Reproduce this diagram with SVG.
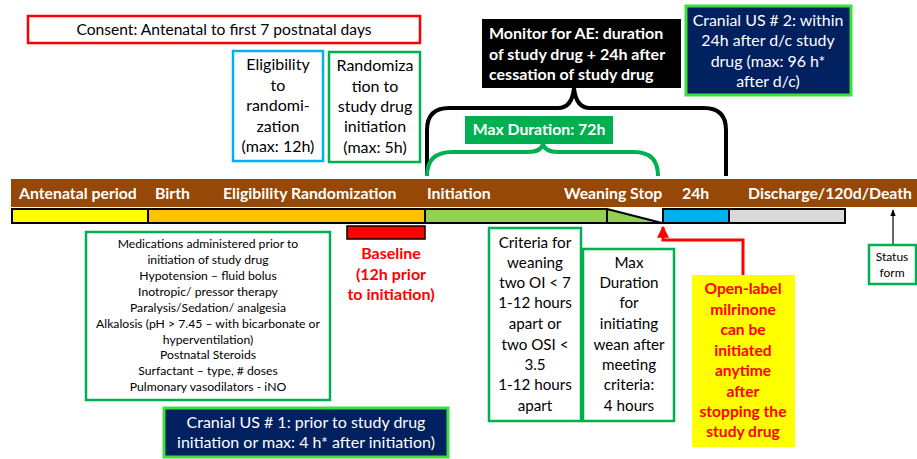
<svg xmlns="http://www.w3.org/2000/svg" width="917" height="459" viewBox="0 0 917 459">
<style>
text{font-family:Lato,"Liberation Sans",sans-serif;}
.t{font-size:15.2px;fill:#000;text-anchor:middle;}
.e{font-size:16px;fill:#000;text-anchor:middle;}
.s{font-size:12.2px;fill:#000;text-anchor:middle;}
.w{font-size:15.9px;fill:#fff;text-anchor:middle;}
.wb{font-size:15.8px;fill:#fff;font-weight:bold;}
.rb{font-size:15.6px;fill:#f00;font-weight:bold;text-anchor:middle;}
.gbox{fill:#fff;stroke:#00B050;stroke-width:2.5;}
.nbox{fill:#002060;stroke:#3CE03C;stroke-width:3;}
.bar{stroke:#000;stroke-width:2;}
</style>
<defs>
<marker id="ar" viewBox="0 0 10 10" refX="9" refY="5" markerWidth="4" markerHeight="4" orient="auto"><path d="M0,0 L10,5 L0,10 z" fill="#f00"/></marker>
<marker id="ak" viewBox="0 0 10 10" refX="9" refY="5" markerWidth="6" markerHeight="6" orient="auto"><path d="M0,1 L10,5 L0,9 z" fill="#000"/></marker>
</defs>

<g id="consent"><rect x="28" y="16" width="392" height="27" fill="#fff" stroke="#f00" stroke-width="2.5"/><text class="t" style="font-size:15.6px" x="224" y="35">Consent: Antenatal to first 7 postnatal days</text></g>

<g id="eligibility"><rect x="233" y="51" width="90" height="110" fill="#fff" stroke="#00B0F0" stroke-width="2.5"/>
<text class="e"><tspan x="278" y="70">Eligibility</tspan><tspan x="278" y="91">to</tspan><tspan x="278" y="111">randomi-</tspan><tspan x="278" y="132">zation</tspan><tspan x="278" y="152">(max: 12h)</tspan></text></g>

<g id="randomization"><rect x="329" y="52" width="91" height="110" class="gbox"/>
<text class="e"><tspan x="375" y="71">Randomiza</tspan><tspan x="375" y="92">tion to</tspan><tspan x="375" y="112">study drug</tspan><tspan x="375" y="132">initiation</tspan><tspan x="375" y="153">(max: 5h)</tspan></text></g>

<g id="monitor"><rect x="482" y="19" width="199" height="69" fill="#000"/>
<text class="wb" style="font-size:16px"><tspan x="489" y="39">Monitor for AE: duration</tspan><tspan x="489" y="60">of study drug + 24h after</tspan><tspan x="489" y="80">cessation of study drug</tspan></text></g>

<g id="cranial2"><rect x="686" y="6" width="165" height="89" class="nbox"/>
<text class="w"><tspan x="768" y="26">Cranial US # 2: within</tspan><tspan x="768" y="46">24h after d/c study</tspan><tspan x="768" y="67">drug (max: 96 h*</tspan><tspan x="768" y="87">after d/c)</tspan></text></g>

<g id="maxdur"><rect x="465" y="116" width="148" height="28" fill="#00B050"/><text class="wb" x="539" y="135" text-anchor="middle">Max Duration: 72h</text></g>

<g id="connectors" fill="none">
<path d="M427,176 L427,130 Q427,108 449,108 L558,108 Q572,108 574,88 Q576,108 590,108 L704,108 Q726,108 726,130 L726,176" stroke="#000" stroke-width="4"/>
<path d="M427,176 Q427,152 452,152 L528,152 Q541,152 543,144 Q545,152 558,152 L634,152 Q658,152 658,176" stroke="#00B050" stroke-width="4"/>
<path d="M743,275 L743,240 L663,240 L663,227" stroke="#f00" stroke-width="3" marker-end="url(#ar)"/>
<path d="M893,245 L893,210" stroke="#000" stroke-width="1.2" marker-end="url(#ak)"/>
</g>

<g id="timeline">
<rect x="11" y="179" width="906" height="28" fill="#974806"/>
<text class="wb" y="199"><tspan x="19">Antenatal period</tspan><tspan x="155">Birth</tspan><tspan x="223">Eligibility Randomization</tspan><tspan x="427">Initiation</tspan><tspan x="564">Weaning Stop</tspan><tspan x="682">24h</tspan><tspan x="748">Discharge/120d/Death</tspan></text>
<rect x="12" y="209" width="136" height="14" fill="#FFFF00" class="bar"/>
<rect x="148" y="209" width="277" height="14" fill="#FFC000" class="bar"/>
<rect x="425" y="209" width="182" height="14" fill="#92D050" class="bar"/>
<polygon points="607,209 662,223 607,223" fill="#92D050" class="bar"/>
<rect x="663" y="209" width="66" height="14" fill="#00B0F0" class="bar"/>
<rect x="729" y="209" width="116" height="14" fill="#D9D9D9" class="bar"/>
</g>

<g id="baseline"><rect x="347" y="226" width="78" height="13" fill="#f00" stroke="#000" stroke-width="1.5"/>
<text class="rb" style="font-size:16px"><tspan x="391" y="259">Baseline</tspan><tspan x="391" y="280">(12h prior</tspan><tspan x="391" y="300">to initiation)</tspan></text></g>

<g id="medications"><rect x="86" y="232" width="244" height="168" class="gbox"/>
<text class="s"><tspan x="208" y="248">Medications administered prior to</tspan><tspan x="208" y="264">initiation of study drug</tspan><tspan x="208" y="280">Hypotension – fluid bolus</tspan><tspan x="208" y="296">Inotropic/ pressor therapy</tspan><tspan x="208" y="312">Paralysis/Sedation/ analgesia</tspan><tspan x="208" y="328">Alkalosis (pH &gt; 7.45 – with bicarbonate or</tspan><tspan x="208" y="344">hyperventilation)</tspan><tspan x="208" y="359">Postnatal Steroids</tspan><tspan x="208" y="375">Surfactant – type, # doses</tspan><tspan x="208" y="391">Pulmonary vasodilators - iNO</tspan></text></g>

<g id="cranial1"><rect x="164" y="408" width="284" height="49" class="nbox"/>
<text class="w" style="font-size:16px"><tspan x="306" y="428">Cranial US # 1: prior to study drug</tspan><tspan x="306" y="448">initiation or max: 4 h* after initiation)</tspan></text></g>

<g id="criteria"><rect x="489" y="228" width="92" height="193" class="gbox"/>
<text class="t"><tspan x="535" y="248">Criteria for</tspan><tspan x="535" y="268">weaning</tspan><tspan x="535" y="288">two OI &lt; 7</tspan><tspan x="535" y="308">1-12 hours</tspan><tspan x="535" y="329">apart or</tspan><tspan x="535" y="350">two OSI &lt;</tspan><tspan x="535" y="370">3.5</tspan><tspan x="535" y="390">1-12 hours</tspan><tspan x="535" y="411">apart</tspan></text></g>

<g id="maxwean"><rect x="583" y="249" width="91" height="172" class="gbox"/>
<text class="t"><tspan x="629" y="268">Max</tspan><tspan x="629" y="288">Duration</tspan><tspan x="629" y="308">for</tspan><tspan x="629" y="329">initiating</tspan><tspan x="629" y="350">wean after</tspan><tspan x="629" y="370">meeting</tspan><tspan x="629" y="390">criteria:</tspan><tspan x="629" y="411">4 hours</tspan></text></g>

<g id="openlabel"><rect x="692" y="275" width="103" height="172" fill="#FFFF00"/>
<text class="rb"><tspan x="743" y="294">Open-label</tspan><tspan x="743" y="315">milrinone</tspan><tspan x="743" y="335">can be</tspan><tspan x="743" y="356">initiated</tspan><tspan x="743" y="376">anytime</tspan><tspan x="743" y="397">after</tspan><tspan x="743" y="417">stopping the</tspan><tspan x="743" y="437">study drug</tspan></text></g>

<g id="status"><rect x="869" y="245" width="47" height="39" class="gbox"/>
<text class="s" style="font-size:12px"><tspan x="892" y="261">Status</tspan><tspan x="892" y="277">form</tspan></text></g>
</svg>
